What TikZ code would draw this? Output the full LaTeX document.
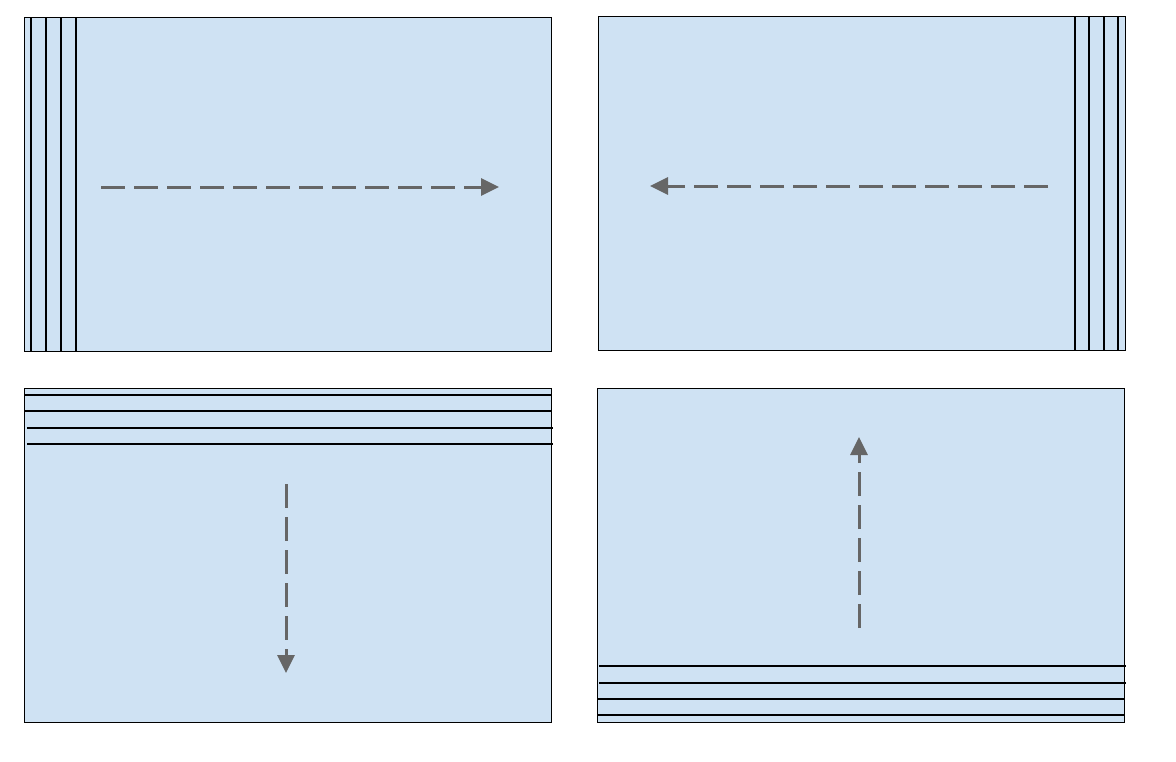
\documentclass[tikz,border=0pt]{standalone}
\usetikzlibrary{arrows.meta}
\definecolor{panelblue}{HTML}{CFE2F3}
\definecolor{arrowgray}{HTML}{666666}
\tikzset{
  panel/.style={fill=panelblue, draw=black, line width=0.8pt},
  stripe/.style={draw=black, line width=1.8pt},
  flow/.style={draw=arrowgray, line width=3pt, dash pattern=on 24pt off 9pt,
    -{Triangle[length=18pt,width=17pt]}}
}
\begin{document}
\begin{tikzpicture}[x=1pt,y=-1pt]
\useasboundingbox (0,0) rectangle (1176,761);
\fill[white] (0,0) rectangle (1176,761);
% panel 1
\draw[panel] (24,17) rectangle (551,351);
\foreach \x in {31,46,61,76} \draw[stripe] (\x,17) -- (\x,351);
\coordinate (a1) at (101,187);
\coordinate (b1) at (499,187);
\draw[flow] (a1) -- (b1);
% panel 2
\draw[panel] (598,16) rectangle (1125,350);
\foreach \x in {1075,1089,1104,1118} \draw[stripe] (\x,16) -- (\x,350);
\coordinate (a2) at (1048,186);
\coordinate (b2) at (650,186);
\draw[flow] (a2) -- (b2);
% panel 3
\draw[panel] (24,388) rectangle (551,722);
\draw[stripe] (24,395) -- (551,395);
\draw[stripe] (24,411) -- (551,411);
\draw[stripe] (27,428) -- (553,428);
\draw[stripe] (27,444) -- (553,444);
\coordinate (a3) at (286,484);
\coordinate (b3) at (286,673);
\draw[flow] (a3) -- (b3);
% panel 4
\draw[panel] (597,388) rectangle (1124,722);
\draw[stripe] (599,666) -- (1126,666);
\draw[stripe] (599,683) -- (1126,683);
\draw[stripe] (597,699) -- (1124,699);
\draw[stripe] (597,715) -- (1124,715);
\coordinate (a4) at (859,628);
\coordinate (b4) at (859,437);
\draw[flow] (a4) -- (b4);
\end{tikzpicture}
\end{document}
